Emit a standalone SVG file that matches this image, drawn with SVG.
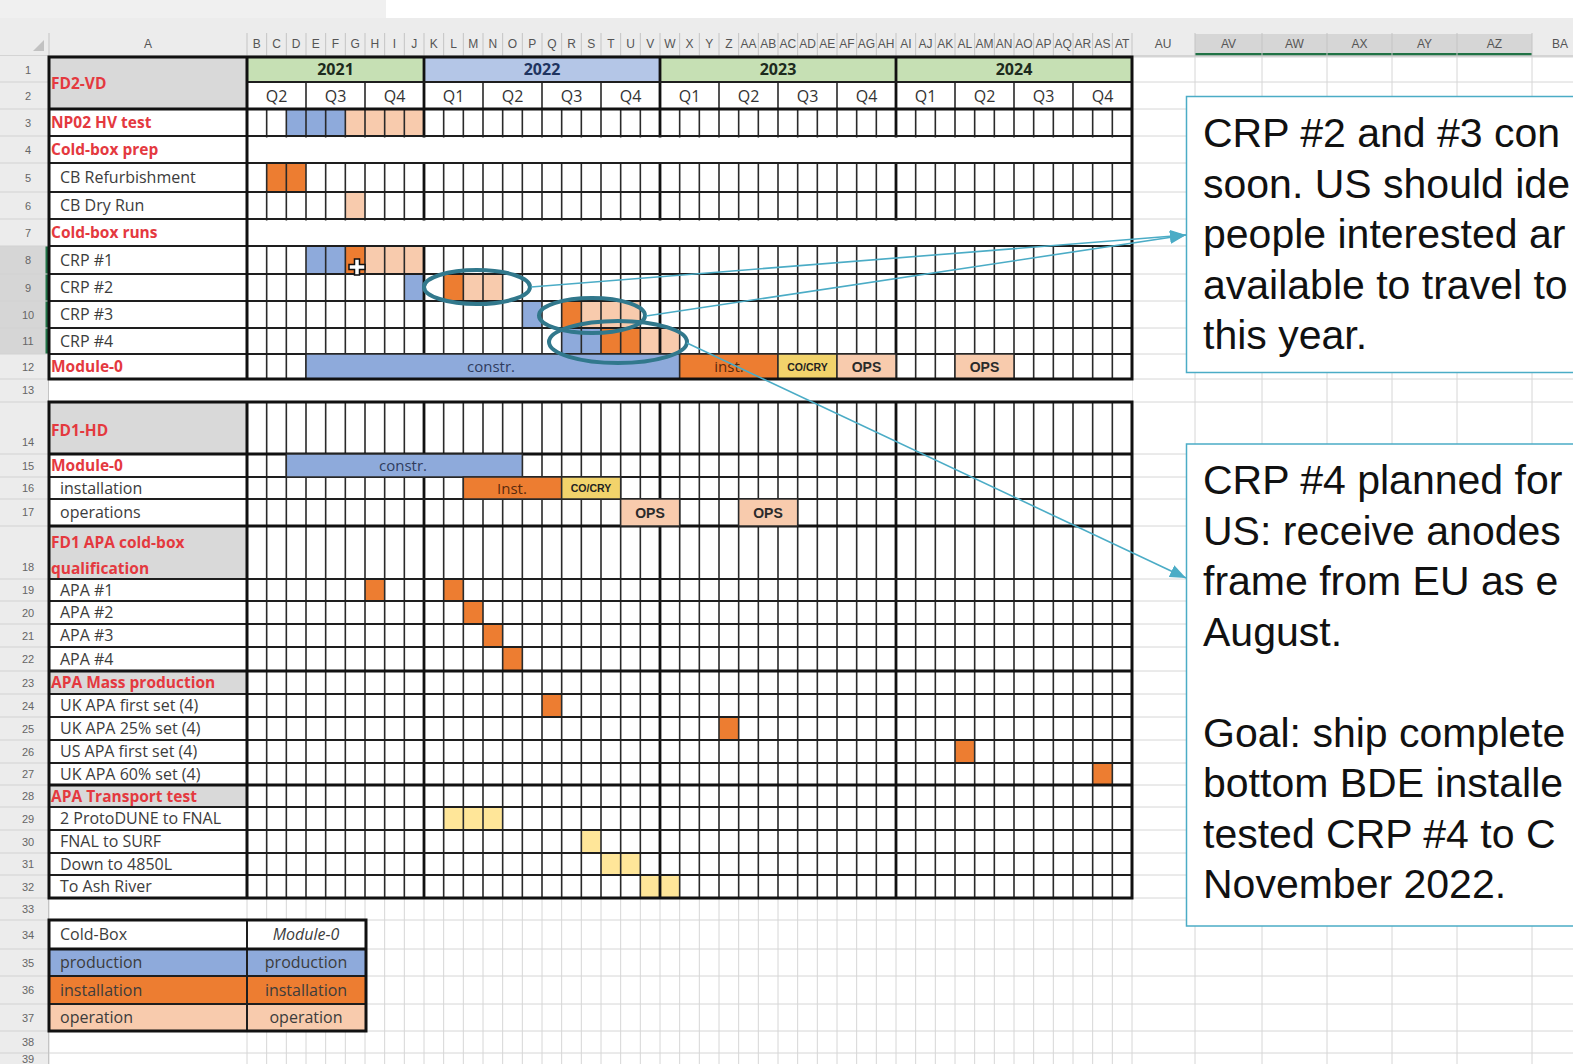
<svg xmlns="http://www.w3.org/2000/svg" xmlns:xlink="http://www.w3.org/1999/xlink" width="1573" height="1064" viewBox="0 0 1573 1064">
<defs>
<style>
.lbl{font-family:"Open Sans","Liberation Sans",sans-serif;font-size:16px;fill:#3c3c3c}
.hd{font-family:"Open Sans","Liberation Sans",sans-serif;font-size:15.5px;font-weight:700;fill:#e4393f}
.yr{font-family:"Open Sans","Liberation Sans",sans-serif;font-size:16px;font-weight:700;text-anchor:middle}
.q{font-family:"Open Sans","Liberation Sans",sans-serif;font-size:16px;fill:#333;text-anchor:middle}
.rn{font-family:"Liberation Sans",sans-serif;font-size:11px;fill:#666;text-anchor:middle}
.cl{font-family:"Liberation Sans",sans-serif;font-size:12px;fill:#555;text-anchor:middle}
.co{font-family:"Liberation Sans",Arial,sans-serif;font-size:41px;fill:#111}
.bt{font-family:"Open Sans","Liberation Sans",sans-serif;font-size:15px;text-anchor:middle}
.tiny{font-family:"Liberation Sans",sans-serif;font-size:10.5px;font-weight:700;text-anchor:middle;fill:#222}
.ops{font-family:"Liberation Sans",sans-serif;font-size:14px;font-weight:700;text-anchor:middle;fill:#2a2a2a}
.gg{stroke:#d6d6d6;stroke-width:1;fill:none}
.vg{stroke:#2a2a2a;stroke-width:1.6;fill:none}
.hg{stroke:#1e1e1e;stroke-width:2;fill:none}
.hk{stroke:#111;stroke-width:2.8;fill:none}
.thick{stroke:#111;stroke-width:3;fill:none}
.b{fill:#8eaadb}.o{fill:#ed7d31}.p{fill:#f8cbad}.y{fill:#f2d36b}.ly{fill:#ffe699}.g{fill:#d9d9d9}
.bar{stroke:#2b2b2b;stroke-width:1.5}
.ell{fill:none;stroke:#31788c;stroke-width:4}
.arr{fill:none;stroke:#4bacc6;stroke-width:1.6}
.box{fill:#fff;stroke:#4bacc6;stroke-width:1.5}
</style>
<path id="vl" vector-effect="non-scaling-stroke" d="M266.67 0V1M286.33 0V1M306 0V1M325.67 0V1M345.33 0V1M365 0V1M384.67 0V1M404.33 0V1M424 0V1M443.67 0V1M463.33 0V1M483 0V1M502.67 0V1M522.33 0V1M542 0V1M561.67 0V1M581.33 0V1M601 0V1M620.67 0V1M640.33 0V1M660 0V1M679.67 0V1M699.33 0V1M719 0V1M738.67 0V1M758.33 0V1M778 0V1M797.67 0V1M817.33 0V1M837 0V1M856.67 0V1M876.33 0V1M896 0V1M915.67 0V1M935.33 0V1M955 0V1M974.67 0V1M994.33 0V1M1014 0V1M1033.67 0V1M1053.33 0V1M1073 0V1M1092.67 0V1M1112.33 0V1"/>
<marker id="ah" viewBox="0 0 16 13" refX="16" refY="6.5" markerWidth="16" markerHeight="13" orient="auto" markerUnits="userSpaceOnUse"><path d="M0 0L16 6.5L0 13z" fill="#4bacc6"/></marker>
</defs>

<rect width="1573" height="1064" fill="#fff"/>

<g id="sheet-grid">
<path class="gg" d="M0 57H1573M0 82H1573M0 109H1573M0 136H1573M0 163H1573M0 192H1573M0 219H1573M0 246H1573M0 274H1573M0 301H1573M0 328H1573M0 354H1573M0 379H1573M0 402H1573M0 454H1573M0 477H1573M0 499H1573M0 526H1573M0 579H1573M0 601H1573M0 624H1573M0 647H1573M0 671H1573M0 694H1573M0 717H1573M0 740H1573M0 763H1573M0 785H1573M0 807H1573M0 830H1573M0 853H1573M0 875H1573M0 898H1573M0 920H1573M0 949H1573M0 976H1573M0 1004H1573M0 1031H1573M0 1053H1573"/>
<use xlink:href="#vl" class="gg" transform="translate(0 56) scale(1 1008)"/>
<path class="gg" d="M49 56V1064M247 56V1064M1132 56V1064M1195 33V1064M1262 33V1064M1327 33V1064M1392 33V1064M1457 33V1064M1532 33V1064"/>
<rect x="49" y="380" width="1083" height="21" fill="#fff"/>
</g>

<g id="sheet-headers">
<rect x="0" y="0" width="386" height="18" fill="#f0f0f0"/>
<rect x="0" y="18" width="1573" height="38" fill="#ececec"/>
<rect x="1195" y="34" width="337" height="20" fill="#d6d6d6"/>
<rect x="1195" y="53" width="337" height="2.5" fill="#217346"/>
<path d="M49 33V56M247 33V56M1132 33V56M1195 33V56M1262 33V56M1327 33V56M1392 33V56M1457 33V56M1532 33V56" stroke="#c4c4c4" stroke-width="1"/>
<use xlink:href="#vl" stroke="#c4c4c4" stroke-width="1" transform="translate(0 33) scale(1 23)"/>
<line x1="0" y1="56" x2="1573" y2="56" stroke="#bdbdbd" stroke-width="1"/>
<polygon points="44,40 44,51 33,51" fill="#c2c2c2"/>
<text class="cl" y="48"><tspan x="148">A</tspan><tspan x="256.83">B</tspan><tspan x="276.5">C</tspan><tspan x="296.17">D</tspan><tspan x="315.83">E</tspan><tspan x="335.5">F</tspan><tspan x="355.17">G</tspan><tspan x="374.83">H</tspan><tspan x="394.5">I</tspan><tspan x="414.17">J</tspan><tspan x="433.83">K</tspan><tspan x="453.5">L</tspan><tspan x="473.17">M</tspan><tspan x="492.83">N</tspan><tspan x="512.5">O</tspan><tspan x="532.17">P</tspan><tspan x="551.83">Q</tspan><tspan x="571.5">R</tspan><tspan x="591.17">S</tspan><tspan x="610.83">T</tspan><tspan x="630.5">U</tspan><tspan x="650.17">V</tspan><tspan x="669.83">W</tspan><tspan x="689.5">X</tspan><tspan x="709.17">Y</tspan><tspan x="728.83">Z</tspan><tspan x="748.5">AA</tspan><tspan x="768.17">AB</tspan><tspan x="787.83">AC</tspan><tspan x="807.5">AD</tspan><tspan x="827.17">AE</tspan><tspan x="846.83">AF</tspan><tspan x="866.5">AG</tspan><tspan x="886.17">AH</tspan><tspan x="905.83">AI</tspan><tspan x="925.5">AJ</tspan><tspan x="945.17">AK</tspan><tspan x="964.83">AL</tspan><tspan x="984.5">AM</tspan><tspan x="1004.17">AN</tspan><tspan x="1023.83">AO</tspan><tspan x="1043.5">AP</tspan><tspan x="1063.17">AQ</tspan><tspan x="1082.83">AR</tspan><tspan x="1102.5">AS</tspan><tspan x="1122.17">AT</tspan><tspan x="1163">AU</tspan><tspan x="1228.5">AV</tspan><tspan x="1294.5">AW</tspan><tspan x="1359.5">AX</tspan><tspan x="1424.5">AY</tspan><tspan x="1494.5">AZ</tspan><tspan x="1560">BA</tspan></text>
<rect x="0" y="56" width="48" height="1008" fill="#ececec"/>
<rect x="0" y="246" width="48" height="108" fill="#d6d6d6"/>
<rect x="45.5" y="246" width="2.5" height="108" fill="#217346"/>
<path d="M0 82H48M0 109H48M0 136H48M0 163H48M0 192H48M0 219H48M0 246H48M0 274H48M0 301H48M0 328H48M0 354H48M0 379H48M0 402H48M0 454H48M0 477H48M0 499H48M0 526H48M0 579H48M0 601H48M0 624H48M0 647H48M0 671H48M0 694H48M0 717H48M0 740H48M0 763H48M0 785H48M0 807H48M0 830H48M0 853H48M0 875H48M0 898H48M0 920H48M0 949H48M0 976H48M0 1004H48M0 1031H48M0 1053H48" stroke="#d2d2d2" stroke-width="1"/>
<line x1="48.5" y1="56" x2="48.5" y2="1064" stroke="#c4c4c4"/>
<text class="rn"><tspan x="28" y="74">1</tspan><tspan x="28" y="100">2</tspan><tspan x="28" y="127">3</tspan><tspan x="28" y="154">4</tspan><tspan x="28" y="182">5</tspan><tspan x="28" y="210">6</tspan><tspan x="28" y="237">7</tspan><tspan x="28" y="264">8</tspan><tspan x="28" y="292">9</tspan><tspan x="28" y="319">10</tspan><tspan x="28" y="345">11</tspan><tspan x="28" y="371">12</tspan><tspan x="28" y="394">13</tspan><tspan x="28" y="446">14</tspan><tspan x="28" y="470">15</tspan><tspan x="28" y="492">16</tspan><tspan x="28" y="516">17</tspan><tspan x="28" y="571">18</tspan><tspan x="28" y="594">19</tspan><tspan x="28" y="617">20</tspan><tspan x="28" y="640">21</tspan><tspan x="28" y="663">22</tspan><tspan x="28" y="687">23</tspan><tspan x="28" y="710">24</tspan><tspan x="28" y="733">25</tspan><tspan x="28" y="756">26</tspan><tspan x="28" y="778">27</tspan><tspan x="28" y="800">28</tspan><tspan x="28" y="823">29</tspan><tspan x="28" y="846">30</tspan><tspan x="28" y="868">31</tspan><tspan x="28" y="891">32</tspan><tspan x="28" y="913">33</tspan><tspan x="28" y="939">34</tspan><tspan x="28" y="967">35</tspan><tspan x="28" y="994">36</tspan><tspan x="28" y="1022">37</tspan><tspan x="28" y="1046">38</tspan><tspan x="28" y="1063">39</tspan></text>
</g>

<g id="fd2-vd">
<rect x="49" y="57" width="1083" height="322" fill="#fff"/>
<rect class="g" x="49" y="57" width="198" height="52"/>
<rect x="247" y="57" width="177" height="25" fill="#c6e0b4"/>
<rect x="424" y="57" width="236" height="25" fill="#b4c6e7"/>
<rect x="660" y="57" width="236" height="25" fill="#c6e0b4"/>
<rect x="896" y="57" width="236" height="25" fill="#c6e0b4"/>
<rect class="b" x="286.33" y="109" width="59" height="27"/>
<rect class="p" x="345.33" y="109" width="78.67" height="27"/>
<rect class="o" x="266.67" y="163" width="39.33" height="29"/>
<rect class="p" x="345.33" y="192" width="19.67" height="27"/>
<rect class="b" x="306" y="246" width="39.33" height="28"/>
<rect class="o" x="345.33" y="246" width="19.67" height="28"/>
<rect class="p" x="365" y="246" width="59" height="28"/>
<rect class="b" x="404.33" y="274" width="19.67" height="27"/>
<rect class="o" x="443.67" y="274" width="19.67" height="27"/>
<rect class="p" x="463.33" y="274" width="39.33" height="27"/>
<rect class="b" x="522.33" y="301" width="19.67" height="27"/>
<rect class="o" x="561.67" y="301" width="19.67" height="27"/>
<rect class="p" x="581.33" y="301" width="59" height="27"/>
<rect class="b" x="561.67" y="328" width="39.33" height="26"/>
<rect class="o" x="601" y="328" width="39.33" height="26"/>
<rect class="p" x="640.33" y="328" width="39.33" height="26"/>
<use xlink:href="#vl" class="vg" transform="translate(0 109) scale(1 270)"/>
<path class="vg" d="M306 82V109M365 82V109M483 82V109M542 82V109M601 82V109M719 82V109M778 82V109M837 82V109M955 82V109M1014 82V109M1073 82V109"/>
<path class="hk" d="M424 57V379M660 57V379M896 57V379"/>
<rect x="248.5" y="137.5" width="882" height="24.5" fill="#fff"/>
<rect x="248.5" y="220.5" width="882" height="24.5" fill="#fff"/>
<path class="hg" d="M247 82H1132M49 136H1132M49 163H1132M49 192H1132M49 219H1132M49 246H1132M49 274H1132M49 301H1132M49 328H1132M49 354H1132"/>
<path class="hk" d="M49 109H1132"/>
<rect class="b bar" x="306" y="354" width="373.67" height="25"/>
<rect class="o bar" x="679.67" y="354" width="98.33" height="25"/>
<rect class="y bar" x="778" y="354" width="59" height="25"/>
<rect class="p bar" x="837" y="354" width="59" height="25"/>
<rect class="p bar" x="955" y="354" width="59" height="25"/>
<path class="thick" d="M247 57V379"/>
<rect class="thick" x="49" y="57" width="1083" height="322"/>
<text class="yr" x="335.5" y="75" fill="#1d2b1d">2021</text>
<text class="yr" x="542" y="75" fill="#1f3460">2022</text>
<text class="yr" x="778" y="75" fill="#1d2b1d">2023</text>
<text class="yr" x="1014" y="75" fill="#1d2b1d">2024</text>
<text class="q" y="102"><tspan x="276.5">Q2</tspan><tspan x="335.5">Q3</tspan><tspan x="394.5">Q4</tspan><tspan x="453.5">Q1</tspan><tspan x="512.5">Q2</tspan><tspan x="571.5">Q3</tspan><tspan x="630.5">Q4</tspan><tspan x="689.5">Q1</tspan><tspan x="748.5">Q2</tspan><tspan x="807.5">Q3</tspan><tspan x="866.5">Q4</tspan><tspan x="925.5">Q1</tspan><tspan x="984.5">Q2</tspan><tspan x="1043.5">Q3</tspan><tspan x="1102.5">Q4</tspan></text>
<text class="hd" x="51" y="89">FD2-VD</text>
<text class="hd" x="51" y="128">NP02 HV test</text>
<text class="hd" x="51" y="155">Cold-box prep</text>
<text class="lbl" x="60" y="183">CB Refurbishment</text>
<text class="lbl" x="60" y="211">CB Dry Run</text>
<text class="hd" x="51" y="238">Cold-box runs</text>
<text class="lbl" x="60" y="266">CRP #1</text>
<text class="lbl" x="60" y="293">CRP #2</text>
<text class="lbl" x="60" y="320">CRP #3</text>
<text class="lbl" x="60" y="347">CRP #4</text>
<text class="hd" x="51" y="372">Module-0</text>
<text class="bt" x="491" y="372" fill="#2f3c5e">constr.</text>
<text class="bt" x="729" y="372" fill="#5a2a0d">inst.</text>
<text class="tiny" x="807.5" y="370.5">CO/CRY</text>
<text class="ops" x="866.5" y="371.5">OPS</text>
<text class="ops" x="984.5" y="371.5">OPS</text>
<path d="M354.5 259h5v5.5h5.5v5h-5.5v5.5h-5v-5.5h-5.5v-5h5.5z" fill="#fff" stroke="#111" stroke-width="1.5"/>
</g>

<g id="fd1-hd">
<rect x="49" y="402" width="1083" height="496" fill="#fff"/>
<rect class="g" x="49" y="402" width="198" height="52"/>
<rect class="g" x="49" y="526" width="198" height="53"/>
<rect class="g" x="49" y="671" width="198" height="23"/>
<rect class="g" x="49" y="785" width="198" height="22"/>
<rect class="o" x="365" y="579" width="19.67" height="22"/>
<rect class="o" x="443.67" y="579" width="19.67" height="22"/>
<rect class="o" x="463.33" y="601" width="19.67" height="23"/>
<rect class="o" x="483" y="624" width="19.67" height="23"/>
<rect class="o" x="502.67" y="647" width="19.67" height="24"/>
<rect class="o" x="542" y="694" width="19.67" height="23"/>
<rect class="o" x="719" y="717" width="19.67" height="23"/>
<rect class="o" x="955" y="740" width="19.67" height="23"/>
<rect class="o" x="1092.67" y="763" width="19.67" height="22"/>
<rect class="ly" x="443.67" y="807" width="59" height="23"/>
<rect class="ly" x="581.33" y="830" width="19.67" height="23"/>
<rect class="ly" x="601" y="853" width="39.33" height="22"/>
<rect class="ly" x="640.33" y="875" width="39.33" height="23"/>
<use xlink:href="#vl" class="vg" transform="translate(0 402) scale(1 496)"/>
<path class="hk" d="M424 402V898M660 402V898M896 402V898"/>
<path class="hg" d="M49 477H1132M49 499H1132M49 579H1132M49 601H1132M49 624H1132M49 647H1132M49 694H1132M49 717H1132M49 740H1132M49 763H1132M49 807H1132M49 830H1132M49 853H1132M49 875H1132"/>
<path class="hk" d="M49 454H1132M49 526H1132M49 671H1132M49 785H1132"/>
<rect class="b bar" x="286.33" y="454" width="236" height="23"/>
<rect class="o bar" x="463.33" y="477" width="98.33" height="22"/>
<rect class="y bar" x="561.67" y="477" width="59" height="22"/>
<rect class="p bar" x="620.67" y="499" width="59" height="27"/>
<rect class="p bar" x="738.67" y="499" width="59" height="27"/>
<path class="thick" d="M247 402V898"/>
<rect class="thick" x="49" y="402" width="1083" height="496"/>
<text class="hd" x="51" y="436">FD1-HD</text>
<text class="hd" x="51" y="471">Module-0</text>
<text class="lbl" x="60" y="494">installation</text>
<text class="lbl" x="60" y="518">operations</text>
<text class="hd" x="51" y="548">FD1 APA cold-box</text>
<text class="hd" x="51" y="574">qualification</text>
<text class="lbl" x="60" y="596">APA #1</text>
<text class="lbl" x="60" y="618">APA #2</text>
<text class="lbl" x="60" y="641">APA #3</text>
<text class="lbl" x="60" y="665">APA #4</text>
<text class="hd" x="51" y="688">APA Mass production</text>
<text class="lbl" x="60" y="711">UK APA first set (4)</text>
<text class="lbl" x="60" y="734">UK APA 25% set (4)</text>
<text class="lbl" x="60" y="757">US APA first set (4)</text>
<text class="lbl" x="60" y="780">UK APA 60% set (4)</text>
<text class="hd" x="51" y="802">APA Transport test</text>
<text class="lbl" x="60" y="824">2 ProtoDUNE to FNAL</text>
<text class="lbl" x="60" y="847">FNAL to SURF</text>
<text class="lbl" x="60" y="870">Down to 4850L</text>
<text class="lbl" x="60" y="892">To Ash River</text>
<text class="bt" x="403" y="471" fill="#2f3c5e">constr.</text>
<text class="bt" x="512" y="494" fill="#5a2a0d">Inst.</text>
<text class="tiny" x="591" y="492">CO/CRY</text>
<text class="ops" x="650" y="518">OPS</text>
<text class="ops" x="768" y="518">OPS</text>
</g>

<g id="legend">
<rect x="49" y="920" width="317" height="111" fill="#fff"/>
<rect class="b" x="49" y="949" width="317" height="27"/>
<rect class="o" x="49" y="976" width="317" height="28"/>
<rect class="p" x="49" y="1004" width="317" height="27"/>
<path class="hg" d="M247 920V1031M49 976H366M49 1004H366"/>
<path class="hk" d="M49 949H366"/>
<rect class="thick" x="49" y="920" width="317" height="111"/>
<text class="lbl" x="60" y="940">Cold-Box</text>
<text class="lbl" x="306" y="940" text-anchor="middle" font-style="italic">Module-0</text>
<text class="lbl" x="60" y="968" fill="#2f3c5e">production</text>
<text class="lbl" x="306" y="968" text-anchor="middle" fill="#2f3c5e">production</text>
<text class="lbl" x="60" y="996" fill="#5a2a0d">installation</text>
<text class="lbl" x="306" y="996" text-anchor="middle" fill="#5a2a0d">installation</text>
<text class="lbl" x="60" y="1023">operation</text>
<text class="lbl" x="306" y="1023" text-anchor="middle">operation</text>
</g>

<g id="callout-crp23">
<rect class="box" x="1186.5" y="96.5" width="420" height="276"/>
<text class="co" x="1203" y="147">CRP #2 and #3 con</text>
<text class="co" x="1203" y="197.5">soon. US should ide</text>
<text class="co" x="1203" y="248">people interested ar</text>
<text class="co" x="1203" y="298.5">available to travel to</text>
<text class="co" x="1203" y="349">this year.</text>
</g>

<g id="callout-crp4">
<rect class="box" x="1186.5" y="444" width="420" height="482"/>
<text class="co" x="1203" y="494">CRP #4 planned for</text>
<text class="co" x="1203" y="544.5">US: receive anodes</text>
<text class="co" x="1203" y="595">frame from EU as e</text>
<text class="co" x="1203" y="645.5">August.</text>
<text class="co" x="1203" y="746.5">Goal: ship complete</text>
<text class="co" x="1203" y="797">bottom BDE installe</text>
<text class="co" x="1203" y="847.5">tested CRP #4 to C</text>
<text class="co" x="1203" y="898">November 2022.</text>
</g>

<g id="highlight-crp2"><ellipse class="ell" cx="477" cy="287" rx="53" ry="17"/></g>
<g id="highlight-crp3"><ellipse class="ell" cx="592" cy="315.5" rx="53" ry="17.5"/></g>
<g id="highlight-crp4"><ellipse class="ell" cx="618" cy="342" rx="69" ry="21"/></g>

<g id="connectors">
<line class="arr" x1="531" y1="287" x2="1186" y2="235" marker-end="url(#ah)"/>
<line class="arr" x1="646" y1="316" x2="1186" y2="235" marker-end="url(#ah)"/>
<line class="arr" x1="687" y1="343" x2="1186" y2="578" marker-end="url(#ah)"/>
</g>
</svg>
